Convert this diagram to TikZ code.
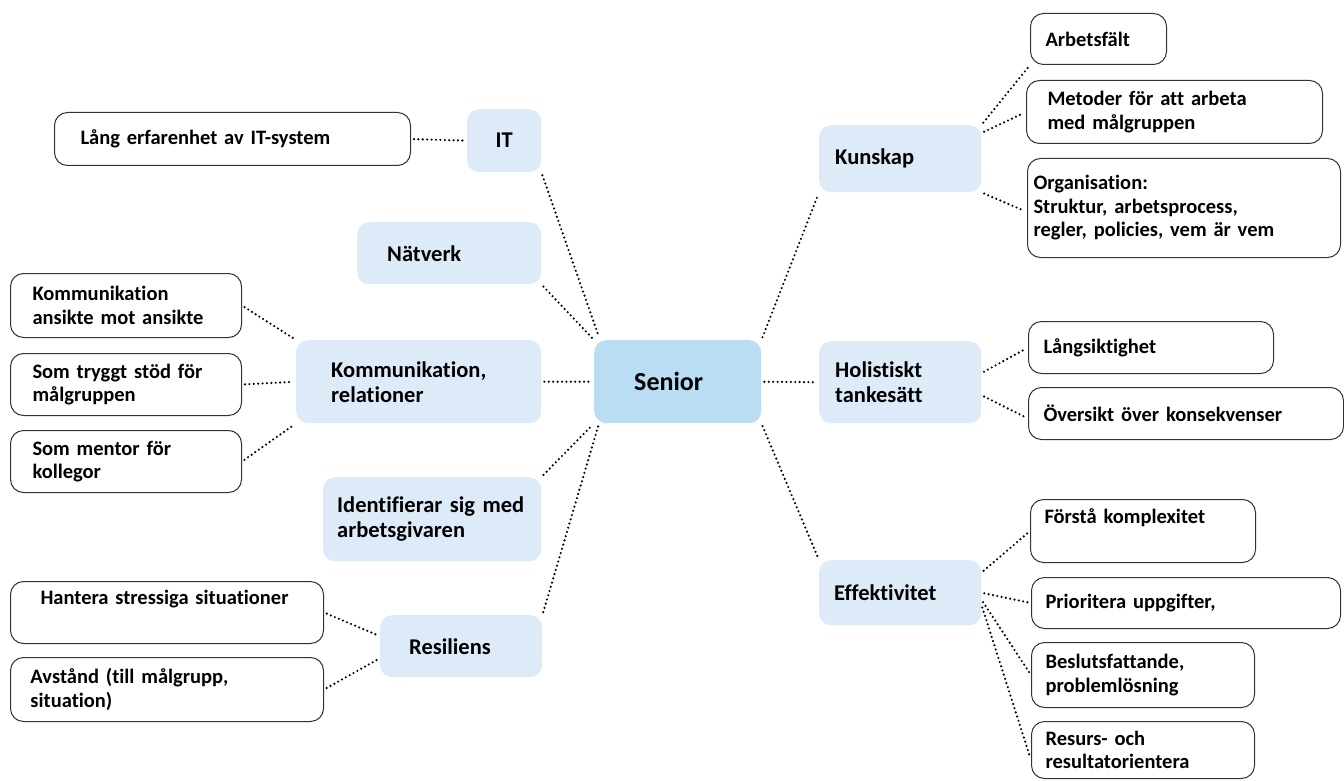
\documentclass[tikz,border=0pt]{standalone}
\usepackage{fontspec}
\setmainfont{Carlito}[Ligatures=NoCommon]
\usepackage{tikz}
\definecolor{seniorblue}{RGB}{185,221,242}
\definecolor{topicblue}{RGB}{221,235,248}

\begin{document}
\begin{tikzpicture}[
    x=1pt, y=-1pt,
    core/.style={
        rectangle, fill=seniorblue, rounded corners=12pt,
        anchor=north west, align=left, inner ysep=0pt,
        font=\bfseries\fontsize{26}{29}\selectfont
    },
    topic/.style={
        rectangle, fill=topicblue, rounded corners=12pt,
        anchor=north west, align=left, inner ysep=0pt,
        font=\bfseries\fontsize{22.5}{25}\selectfont
    },
    leaf/.style={
        rectangle, draw=black!80, line width=1pt, fill=white,
        rounded corners=13pt, anchor=north west, align=left, inner ysep=0pt,
        font=\bfseries\fontsize{20.5}{23.5}\selectfont
    },
    link/.style={
        line width=2.4pt, dash pattern=on 0pt off 4.4pt, line cap=round,
        shorten <=3pt, shorten >=3pt
    }
]
\useasboundingbox (0,0) rectangle (1344,781);

% Centre node
\node[core, text width=87pt, inner xsep=40pt, minimum height=83pt] (senior) at (594,340) {Senior};

% Topic nodes - left side
\node[topic, text width=44pt, inner xsep=15pt, align=center, minimum height=63pt] (it) at (467,109) {IT};
\node[topic, text width=124pt, inner xsep=30pt, minimum height=62pt] (natverk) at (357,222) {Nätverk};
\node[topic, text width=175pt, inner xsep=35pt, minimum height=83pt] (komm) at (296,340) {Kommunikation,\\relationer};
\node[topic, text width=190pt, inner xsep=14pt, minimum height=84pt] (ident) at (323,477) {Identifierar sig med\\arbetsgivaren};
\node[topic, text width=104pt, inner xsep=29pt, minimum height=62pt] (resil) at (380,615) {Resiliens};

% Topic nodes - right side
\node[topic, text width=130pt, inner xsep=16pt, minimum height=67pt] (kunskap) at (819,125) {Kunskap};
\node[topic, text width=130pt, inner xsep=16pt, minimum height=82pt] (holist) at (819,341) {Holistiskt\\tankesätt};
\node[topic, text width=132pt, inner xsep=15pt, minimum height=65pt] (effekt) at (819,560) {Effektivitet};

% Leaf nodes - left side
\node[leaf, text width=304pt, inner xsep=26pt, minimum height=53pt] (erfarenhet) at (54,112) {Lång erfarenhet av IT-system};
\node[leaf, text width=187pt, inner xsep=22pt, minimum height=64pt] (ansikte) at (10,273) {Kommunikation\\ansikte mot ansikte};
\node[leaf, text width=187pt, inner xsep=22pt, minimum height=62pt] (stod) at (10,353) {Som tryggt stöd för\\målgruppen};
\node[leaf, text width=187pt, inner xsep=22pt, minimum height=62pt] (mentor) at (10,430) {Som mentor för\\kollegor};
\node[leaf, text width=253pt, inner xsep=30pt, minimum height=62pt] (stress) at (10,581) {Hantera stressiga situationer\\\strut};
\node[leaf, text width=273pt, inner xsep=20pt, minimum height=64pt] (avstand) at (10,657) {Avstånd (till målgrupp,\\situation)};

% Leaf nodes - right side
\node[leaf, text width=106pt, inner xsep=15pt, minimum height=51pt] (arbetsfalt) at (1030,13) {Arbetsfält};
\node[leaf, text width=254pt, inner xsep=21pt, minimum height=63pt] (metoder) at (1026,80) {Metoder för att arbeta\\med målgruppen};
\node[leaf, text width=301pt, inner xsep=6pt, minimum height=99pt] (organisation) at (1027,158) {Organisation:\\Struktur, arbetsprocess,\\regler, policies, vem är vem};
\node[leaf, text width=215pt, inner xsep=15pt, minimum height=52pt] (langsikt) at (1028,321) {Långsiktighet};
\node[leaf, text width=285pt, inner xsep=15pt, minimum height=52pt] (oversikt) at (1028,387) {Översikt över konsekvenser};
\node[leaf, text width=197pt, inner xsep=14pt, minimum height=63pt] (komplex) at (1030,499) {Förstå komplexitet\\\strut};
\node[leaf, text width=281pt, inner xsep=14pt, minimum height=51pt] (prio) at (1031,577) {Prioritera uppgifter,};
\node[leaf, text width=195pt, inner xsep=14pt, minimum height=65pt] (beslut) at (1031,642) {Beslutsfattande,\\problemlösning};
\node[leaf, text width=195pt, inner xsep=14pt, minimum height=57pt] (resurs) at (1031,721) {Resurs- och\\resultatorientera};

% Links to the centre
\draw[link] (it.south east) -- ([xshift=6pt]senior.north west);
\draw[link] (natverk.south east) -- (senior.north west);
\draw[link] (komm.east) -- (senior.west);
\draw[link] (ident.north east) -- (senior.south west);
\draw[link] (resil.north east) -- ([xshift=5pt]senior.south west);
\draw[link] (senior.north east) -- (kunskap.south west);
\draw[link] (senior.east) -- (holist.west);
\draw[link] (senior.south east) -- (effekt.north west);

% Links to the leaves
\draw[link] (erfarenhet.east) -- (it.west);
\draw[link] (ansikte.east) -- (komm.north west);
\draw[link] (stod.east) -- (komm.west);
\draw[link] (mentor.east) -- (komm.south west);
\draw[link] (stress.east) -- ([yshift=10pt]resil.west);
\draw[link] (avstand.east) -- ([yshift=-12pt]resil.west);
\draw[link] (kunskap.north east) -- (arbetsfalt.south west);
\draw[link] ([yshift=-8pt]kunskap.north east) -- (metoder.west);
\draw[link] (kunskap.south east) -- ([yshift=-4pt]organisation.west);
\draw[link] ([yshift=9pt]holist.east) -- (langsikt.west);
\draw[link] ([yshift=-13pt]holist.east) -- ([yshift=-5pt]oversikt.west);
\draw[link] ([yshift=20pt]effekt.east) -- (komplex.west);
\draw[link] (effekt.east) -- (prio.west);
\draw[link] ([yshift=-7pt]effekt.east) -- (beslut.west);
\draw[link] ([yshift=-12pt]effekt.east) -- ([yshift=-10pt]resurs.west);

\end{tikzpicture}
\end{document}
